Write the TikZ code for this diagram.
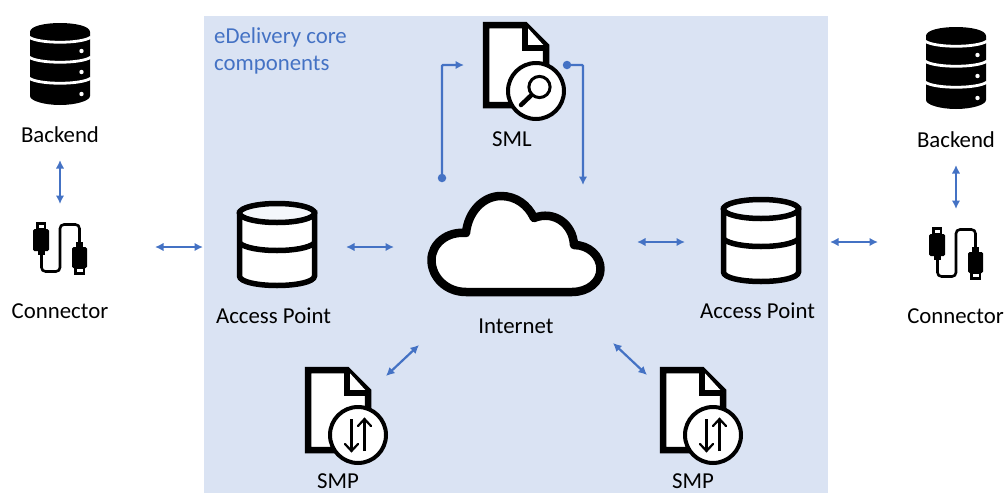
\documentclass[tikz,border=0pt]{standalone}
\usepackage{fontspec}
\setmainfont{Carlito}
\usetikzlibrary{arrows.meta}
\definecolor{panel}{HTML}{DAE3F3}
\definecolor{link}{HTML}{4472C4}
\tikzset{
  x=1pt,y=-1pt,
  lbl/.style={font=\fontsize{22.8}{26}\selectfont,text=black,inner sep=0pt,anchor=center},
  corelbl/.style={font=\fontsize{22.8}{26}\selectfont,text=link,inner sep=0pt,anchor=west},
  biarrow/.style={draw=link,line width=2.2pt,{Latex[length=8.5pt,width=8.5pt]}-{Latex[length=8.5pt,width=8.5pt]}},
  endarrow/.style={draw=link,line width=2.2pt,-{Latex[length=8.5pt,width=8.5pt]},rounded corners=1pt},
  dotmark/.style={circle,fill=link,inner sep=0pt,minimum size=8.5pt},
  pics/dbsolid/.style={code={
    \fill[black] (30,32) .. controls (30,26) and (45,23) .. (60,23) .. controls (75,23) and (90,26) .. (90,32)
      -- (90,96) .. controls (90,101) and (75,105) .. (60,105) .. controls (45,105) and (30,101) .. (30,96) -- cycle;
    \foreach \yy in {37,57,78}{
      \draw[white,line width=2.8pt] (29,\yy) .. controls (38,{\yy+7}) and (82,{\yy+7}) .. (91,\yy);
    }
    \foreach \yy in {51,72,94}{\fill[white] (81.5,\yy) circle (2.2);}
  }},
  pics/dbopen/.style={code={
    \draw[black,line width=5.5pt,fill=white] (239.5,213) -- (239.5,276)
      .. controls (239.5,282) and (258,285.5) .. (277,285.5) .. controls (296,285.5) and (314.5,282) .. (314.5,276) -- (314.5,213) -- cycle;
    \draw[black,line width=5.5pt,fill=panel!30!white] (277,213) circle [x radius=37.5,y radius=9.5];
    \draw[black,line width=5.5pt] (239.5,243) .. controls (250,253) and (304,253) .. (314.5,243);
  }},
  pics/plugicon/.style={code={
    \draw[black,line width=2.6pt,rounded corners=4pt] (41.5,250) -- (41.5,271.5) -- (60,271.5) -- (60,224.5) -- (79.5,224.5) -- (79.5,248);
    \fill[black,rounded corners=1.5pt] (33,229) rectangle (49,251);
    \fill[black] (38,250) rectangle (45,255);
    \fill[black] (36,222) rectangle (46,230);
    \fill[white] (38.5,225) rectangle (43.5,228);
    \fill[black,rounded corners=1.5pt] (72,247) rectangle (87,268);
    \fill[black] (76,242) rectangle (83,248);
    \fill[black] (74,267) rectangle (85,275);
    \fill[white] (76.5,268.5) rectangle (82.5,271.5);
  }},
  pics/docsheet/.style={code={
    \draw[black,line width=6.5pt,fill=white,miter limit=10] (486,25) -- (525,25) -- (546,46) -- (546,105) -- (486,105) -- cycle;
    \draw[black,line width=6pt,fill=white] (525,25) -- (525,48) -- (546,48);
  }},
  pics/lensbadge/.style={code={
    \draw[black,line width=4pt,fill=white] (536,91) circle (28);
    \draw[black,line width=3pt] (539.5,87) circle (10.6);
    \draw[black,line width=4.5pt,line cap=round] (531.5,95) -- (521,105);
  }},
  pics/swapbadge/.style={code={
    \draw[black,line width=4pt,fill=white] (358,435) circle (28);
    \draw[black,line width=2.2pt] (351.5,419) -- (351.5,451);
    \draw[black,line width=2.2pt,line cap=round] (345,444) -- (351.5,451) -- (358,444);
    \draw[black,line width=2.2pt] (364.5,451) -- (364.5,419);
    \draw[black,line width=2.2pt,line cap=round] (358,426) -- (364.5,419) -- (371,426);
  }},
  pics/cloudicon/.style={code={
    \draw[black,line width=8.5pt,fill=white,line join=round]
      (466,292) .. controls (446,292) and (431.5,277) .. (431.5,260)
      .. controls (431.5,244) and (447,231) .. (466,233)
      .. controls (468,212) and (483,196) .. (501,196)
      .. controls (516,196) and (528,205) .. (534,218)
      .. controls (554,210) and (573,224) .. (574,245)
      .. controls (589,245) and (600.5,256) .. (600.5,269)
      .. controls (600.5,282) and (588,292) .. (572,292) -- cycle;
  }}
}
\begin{document}
\begin{tikzpicture}
\useasboundingbox (0,0) rectangle (1005,493);
\fill[panel] (204,16) rectangle (828,493);

% icons
\pic at (0,0) {dbsolid};
\pic at (896,4) {dbsolid};
\pic at (0,0) {plugicon};
\pic at (896,5) {plugicon};
\pic at (0,0) {dbopen};
\pic at (484,-4) {dbopen};
\pic at (0,0) {cloudicon};
\pic at (0,0) {docsheet};
\pic at (0,0) {lensbadge};
\pic at (-178,345) {docsheet};
\pic at (0,0) {swapbadge};
\pic at (177,345) {docsheet};
\pic at (355,0) {swapbadge};

% labels
\node[corelbl] (core1) at (214,37) {eDelivery core};
\node[corelbl] (core2) at (214,65) {components};
\node[lbl] (backendL) at (60,135) {Backend};
\node[lbl] (connL) at (60,311) {Connector};
\node[lbl] (apL) at (273.5,316) {Access Point};
\node[lbl] (sml) at (512,139) {SML};
\node[lbl] (inet) at (516,326) {Internet};
\node[lbl] (apR) at (757.5,311) {Access Point};
\node[lbl] (backendR) at (956,140) {Backend};
\node[lbl] (connR) at (955.5,316) {Connector};
\node[lbl] (smpL) at (338,481) {SMP};
\node[lbl] (smpR) at (693,481) {SMP};

% connector end points
\coordinate (a1) at (60,160); \coordinate (a2) at (60,204);
\coordinate (b1) at (155,247); \coordinate (b2) at (203,247);
\coordinate (c1) at (346,247); \coordinate (c2) at (394,247);
\coordinate (d1) at (637,242); \coordinate (d2) at (685,242);
\coordinate (e1) at (830,242); \coordinate (e2) at (878,242);
\coordinate (f1) at (956,165); \coordinate (f2) at (956,209);
\coordinate (g1) at (386,376); \coordinate (g2) at (419,345);
\coordinate (h1) at (613,343); \coordinate (h2) at (647,375);
\coordinate (i1) at (442,178); \coordinate (i2) at (442,65); \coordinate (i3) at (464,65);
\coordinate (j1) at (567,65); \coordinate (j2) at (583,65); \coordinate (j3) at (583,185);

\draw[biarrow] (a1) -- (a2);
\draw[biarrow] (b1) -- (b2);
\draw[biarrow] (c1) -- (c2);
\draw[biarrow] (d1) -- (d2);
\draw[biarrow] (e1) -- (e2);
\draw[biarrow] (f1) -- (f2);
\draw[biarrow] (g1) -- (g2);
\draw[biarrow] (h1) -- (h2);
\node[dotmark] (idot) at (i1) {};
\node[dotmark] (jdot) at (j1) {};
\draw[endarrow] (idot.center) -- (i2) -- (i3);
\draw[endarrow] (jdot.center) -- (j2) -- (j3);
\end{tikzpicture}
\end{document}
